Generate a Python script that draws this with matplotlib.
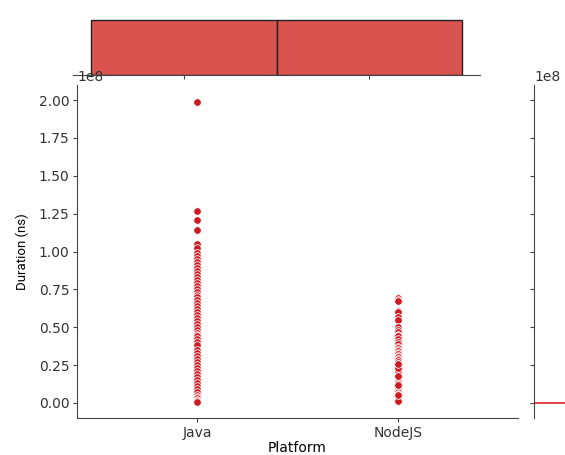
import numpy as np
import matplotlib
matplotlib.use("Agg")
import matplotlib.pyplot as plt
import seaborn as sns

platforms = ["Java", "NodeJS"]

# durations in units of 1e8 ns
java_dur = [1.99, 1.27, 1.21, 1.14, 1.05, 1.02, 0.99, 0.97, 0.95, 0.93,
            0.91, 0.89, 0.87, 0.85, 0.83, 0.81, 0.79, 0.77, 0.75, 0.73,
            0.71, 0.70, 0.68, 0.66, 0.64, 0.62, 0.60, 0.58, 0.56, 0.54,
            0.52, 0.50, 0.48, 0.46, 0.45, 0.44, 0.42, 0.40, 0.38, 0.35,
            0.33, 0.31, 0.29, 0.27, 0.25, 0.23, 0.21, 0.19, 0.17, 0.15,
            0.13, 0.11, 0.09, 0.07, 0.05, 0.04, 0.03, 0.02, 0.01, 0.005]
node_dur = [0.69, 0.68, 0.67, 0.61, 0.60, 0.57, 0.55, 0.50, 0.48, 0.47,
            0.45, 0.44, 0.42, 0.40, 0.39, 0.37, 0.36, 0.35, 0.34, 0.33,
            0.32, 0.31, 0.30, 0.29, 0.28, 0.27, 0.26, 0.25, 0.24, 0.23,
            0.22, 0.21, 0.20, 0.19, 0.18, 0.17, 0.16, 0.15, 0.14, 0.13,
            0.12, 0.11, 0.10, 0.09, 0.08, 0.07, 0.06, 0.05, 0.04, 0.03,
            0.025, 0.02, 0.015, 0.01, 0.21, 0.23, 0.12, 0.05, 0.26, 0.18]

java_ns = np.array(java_dur) * 1e8
node_ns = np.array(node_dur) * 1e8

point_red = "#cf1a22"
bar_red = "#d9534f"
spine_col = "#444444"

fig = plt.figure(figsize=(5.65, 4.55), dpi=100)
ax = fig.add_axes([0.1363, 0.0813, 0.7805, 0.7319])
ax_top = fig.add_axes([0.1292, 0.8352, 0.7204, 0.1275])
ax_right = fig.add_axes([0.9451, 0.0813, 0.12, 0.7319], sharey=ax)
ax_top.patch.set_visible(False)
ax.set_zorder(3)

# joint scatter
for i, vals in enumerate([java_ns, node_ns]):
    ax.scatter(np.full(len(vals), i), vals, s=30, color=point_red,
               edgecolor="white", linewidth=0.6, zorder=3)
ax.set_xticks(range(len(platforms)))
ax.set_xticklabels(platforms)
ax.set_xlim(-0.6, 1.6)
ax.set_xlabel("Platform", labelpad=1)
ax.set_ylabel("Duration (ns)", family=["Roboto", "DejaVu Sans"],
              fontsize=9.5, labelpad=7)
ax.set_yticks(np.arange(0, 2.01, 0.25) * 1e8)
for s in ["top", "right"]:
    ax.spines[s].set_visible(False)

# top marginal: counts per platform
counts = [len(java_ns), len(node_ns)]
ax_top.bar(range(len(platforms)), counts, width=1.0, color=bar_red,
           edgecolor="#222222", linewidth=1.0)
ax_top.set_xlim(-0.6, 1.6)
ax_top.set_xticks(range(len(platforms)))
plt.setp(ax_top.get_xticklabels(), visible=False)
ax_top.set_yticks([])
for s in ["top", "right", "left"]:
    ax_top.spines[s].set_visible(False)

# right marginal
ax_right.barh([0], [1.0], height=1.2e6, color="#e0474c")
ax_right.set_xlim(0, 0.4)
plt.setp(ax_right.get_yticklabels(), visible=False)
ax_right.set_xticks([])
for s in ["top", "right", "bottom"]:
    ax_right.spines[s].set_visible(False)

ax.set_ylim(-0.1e8, 2.1e8)

for a in [ax, ax_top, ax_right]:
    for sp in a.spines.values():
        sp.set_color(spine_col)
    a.tick_params(colors=spine_col, labelcolor="#333333", length=3, pad=2.5)

fig.savefig("out.png", dpi=100)
